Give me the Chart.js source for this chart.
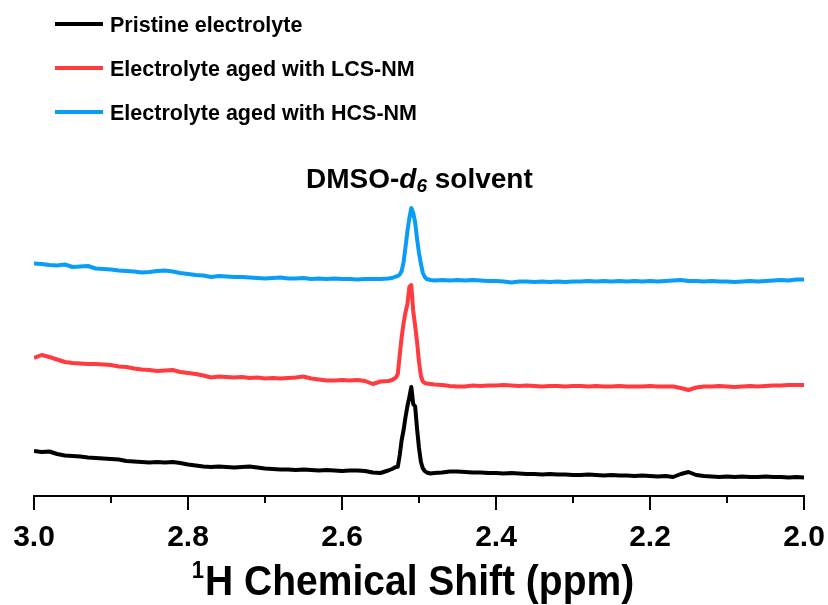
<!DOCTYPE html>
<html>
<head>
<meta charset="utf-8">
<script src="https://cdn.jsdelivr.net/npm/chart.js@4.4.0/dist/chart.umd.min.js"></script>
<style>
  html, body { margin: 0; padding: 0; background: #ffffff; }
  #wrap { width: 828px; height: 605px; }
</style>
</head>
<body>
<div id="wrap"><canvas id="c" width="828" height="605"></canvas></div>
<script>
// Chemical shift positions (ppm)
const ppm = [
  3.00, 2.99, 2.98, 2.97, 2.96, 2.95, 2.94, 2.93, 2.92, 2.91,
  2.90, 2.89, 2.88, 2.87, 2.86, 2.85, 2.84, 2.83, 2.82, 2.81,
  2.80, 2.79, 2.78, 2.77, 2.76, 2.75, 2.74, 2.73, 2.72, 2.71,
  2.70, 2.69, 2.68, 2.67, 2.66, 2.65, 2.64, 2.63, 2.62, 2.61,
  2.60, 2.59, 2.58, 2.57, 2.56, 2.55, 2.54,
  2.535, 2.53, 2.5275, 2.525, 2.5225, 2.52, 2.5175, 2.515, 2.5125, 2.51,
  2.5075, 2.505, 2.5025, 2.50, 2.4975, 2.495, 2.4925, 2.49, 2.485,
  2.48, 2.47, 2.46, 2.45, 2.44, 2.43, 2.42, 2.41, 2.40, 2.39,
  2.38, 2.37, 2.36, 2.35, 2.34, 2.33, 2.32, 2.31, 2.30, 2.29,
  2.28, 2.27, 2.26, 2.25, 2.24, 2.23, 2.22, 2.21, 2.20, 2.19,
  2.18, 2.17, 2.16, 2.15, 2.14, 2.13, 2.12, 2.11, 2.10, 2.09,
  2.08, 2.07, 2.06, 2.05, 2.04, 2.03, 2.02, 2.01, 2.00
];

// Pristine electrolyte (stacked intensity, a.u.)
const pristine = [
  45, 44, 44.5, 42, 40.5, 40, 39.5, 38.5, 38, 37.5,
  37, 36.5, 35, 34.5, 34, 33.5, 34, 33.5, 34, 33,
  31.5, 30.5, 29.5, 29, 29.5, 29, 28.5, 29, 29.5, 28.5,
  27.5, 27, 26.5, 26.5, 26, 26.5, 26, 25.5, 26, 25.5,
  25, 25.5, 25.5, 25, 23.5, 23, 25.5,
  27, 29, 29.3, 41, 56, 66, 79, 90, 99, 109,
  92, 89.5, 67, 48, 34, 27.7, 25, 23.5, 22.5,
  23, 23.5, 24.5, 24.5, 24, 23.5, 23.5, 23, 23, 22.5,
  23, 22.5, 22, 22, 21.5, 22, 21.5, 21.5, 21, 21,
  21.5, 21, 20.5, 21, 20.5, 20.5, 20, 20.5, 20, 19.5,
  20, 19, 22, 24, 21, 20, 19.5, 19, 19.5, 19,
  19.5, 19, 19, 19.5, 19, 19, 18.5, 19, 18.5
];

// Electrolyte aged with LCS-NM
const agedLCS = [
  138, 141, 139, 136.5, 134, 133, 132.5, 132, 132, 131.5,
  131, 129.5, 129, 127.5, 126.5, 126, 125, 125.5, 126, 124,
  123, 122, 120.5, 118.5, 119.5, 119, 118.5, 119, 118, 118.5,
  117.5, 118, 117.5, 118, 118.5, 119.5, 117.5, 116.5, 115.5, 115.5,
  116, 115.5, 116, 115, 112, 114.5, 115,
  116, 118.5, 122, 141, 159, 173, 184, 192, 209, 211,
  185, 170, 154, 134, 120, 114.5, 113, 112.5, 112,
  111.5, 111, 110, 109.5, 109.5, 110.5, 110, 110.5, 110.5, 111,
  110.5, 110, 110.5, 110, 109.5, 110, 110, 109.5, 110, 110,
  109.5, 110, 109.5, 109.5, 110, 109.5, 109.5, 109.5, 110, 109.5,
  109.5, 109.5, 108, 106, 108.5, 109.5, 109.5, 110, 109.5, 109,
  109.5, 110, 109.5, 110, 110.5, 110.5, 111, 111, 111
];

// Electrolyte aged with HCS-NM
const agedHCS = [
  232.5, 232, 231, 230.5, 231.5, 229, 229.5, 230, 227.5, 227,
  226.5, 225.5, 225, 224.5, 223.5, 224, 225, 225.5, 224.5, 223,
  222, 221, 220.5, 219, 220, 219.5, 219, 219, 218.5, 218,
  217.5, 218, 218.5, 217.5, 217.5, 218, 217, 217.5, 217, 217.5,
  217, 217, 216.5, 217, 217, 217, 217.5,
  218, 219.5, 220, 221.5, 225, 234, 249, 265, 278, 288,
  283, 273.5, 257, 243, 232, 223, 219, 217, 216,
  215.5, 216, 215.5, 216, 215.5, 216, 215.5, 215, 215, 214.5,
  213.5, 214.5, 214.5, 214, 214.5, 214, 214.5, 214, 214.5, 214.5,
  215, 214.5, 215, 214.5, 215, 214.5, 215, 214.5, 215, 214.5,
  215, 215.5, 216, 215, 215, 214.5, 215, 214.5, 214.5, 214,
  214.5, 215, 214.5, 215, 215.5, 216, 215.5, 216.5, 216.5
];

const seriesLabels = ['Pristine electrolyte', 'Electrolyte aged with LCS-NM', 'Electrolyte aged with HCS-NM'];
const seriesColors = ['#000000', '#FF3B3F', '#0A9DF5'];
const majorTicks = [3.0, 2.8, 2.6, 2.4, 2.2, 2.0];
const minorTicks = [2.9, 2.7, 2.5, 2.3, 2.1];
const xTitleSup = '1';
const xTitleMain = 'H Chemical Shift (ppm)';

const FONT = '"Liberation Sans", Arial, Helvetica, sans-serif';

function pts(vals) { return ppm.map((x, i) => ({ x: x, y: vals[i] })); }

const overlay = {
  id: 'overlay',
  afterDraw(chart) {
    const ctx = chart.ctx;
    const xs = chart.scales.x;
    const base = chart.chartArea.bottom;
    ctx.save();
    // minor ticks
    ctx.strokeStyle = '#000';
    ctx.lineWidth = 2;
    minorTicks.forEach(v => {
      const px = Math.round(xs.getPixelForValue(v));
      ctx.beginPath();
      ctx.moveTo(px, base);
      ctx.lineTo(px, base + 7);
      ctx.stroke();
    });
    // axis title with superscript
    ctx.fillStyle = '#000';
    ctx.textBaseline = 'alphabetic';
    ctx.textAlign = 'left';
    ctx.font = 'bold 39px ' + FONT;
    const mainW = ctx.measureText(xTitleMain).width;
    ctx.font = 'bold 22px ' + FONT;
    const supW = ctx.measureText(xTitleSup).width;
    const cx = (xs.left + xs.right) / 2 - 6;
    const tx = cx - (mainW + supW + 1) / 2;
    ctx.save();
    ctx.translate(0, 595);
    ctx.scale(1, 1.07);
    ctx.font = 'bold 22px ' + FONT;
    ctx.fillText(xTitleSup, tx, -16);
    ctx.font = 'bold 39px ' + FONT;
    ctx.fillText(xTitleMain, tx + supW + 1, 0);
    ctx.restore();
    // legend
    const legY = [24, 68, 112];
    ctx.font = 'bold 21.5px ' + FONT;
    seriesLabels.forEach((lab, i) => {
      ctx.strokeStyle = seriesColors[i];
      ctx.lineWidth = 4;
      ctx.beginPath();
      ctx.moveTo(55, legY[i]);
      ctx.lineTo(103, legY[i]);
      ctx.stroke();
      ctx.fillStyle = '#000';
      ctx.fillText(lab, 110, legY[i] + 7.5);
    });
    // peak annotation: DMSO-d6 solvent
    let x = 306;
    const by = 188;
    ctx.fillStyle = '#000';
    ctx.font = 'bold 28px ' + FONT;
    ctx.fillText('DMSO-', x, by);
    x += ctx.measureText('DMSO-').width;
    ctx.font = 'italic bold 28px ' + FONT;
    ctx.fillText('d', x, by);
    x += ctx.measureText('d').width;
    ctx.font = 'italic bold 19px ' + FONT;
    ctx.fillText('6', x, by + 4);
    x += ctx.measureText('6').width;
    ctx.font = 'bold 28px ' + FONT;
    ctx.fillText(' solvent', x, by);
    ctx.restore();
  }
};

new Chart(document.getElementById('c'), {
  type: 'line',
  data: {
    datasets: [0, 1, 2].map(i => ({
      label: seriesLabels[i],
      data: pts([pristine, agedLCS, agedHCS][i]),
      borderColor: seriesColors[i],
      borderWidth: 4,
      borderJoinStyle: 'round',
      pointRadius: 0,
      tension: 0,
      fill: false
    }))
  },
  options: {
    responsive: false,
    animation: false,
    devicePixelRatio: 1,
    layout: { padding: { left: 34, right: 24, top: 150, bottom: 0 } },
    plugins: { legend: { display: false }, tooltip: { enabled: false }, title: { display: false } },
    scales: {
      x: {
        type: 'linear',
        reverse: true,
        min: 2.0,
        max: 3.0,
        afterBuildTicks(scale) { scale.ticks = majorTicks.map(v => ({ value: v })); },
        afterFit(scale) {
          scale.paddingLeft = 0;
          scale.paddingRight = 0;
          scale.height = 109;
        },
        ticks: {
          color: '#000',
          font: { family: FONT, size: 30, weight: 'bold' },
          padding: 10,
          maxRotation: 0,
          autoSkip: false,
          callback: v => Number(v).toFixed(1)
        },
        grid: { display: true, drawOnChartArea: false, drawTicks: true, tickLength: 14, color: '#000', lineWidth: 2 },
        border: { display: true, color: '#000', width: 2 },
        title: { display: false }
      },
      y: { display: false, min: 0, max: 346 }
    }
  },
  plugins: [overlay]
});
</script>
</body>
</html>
